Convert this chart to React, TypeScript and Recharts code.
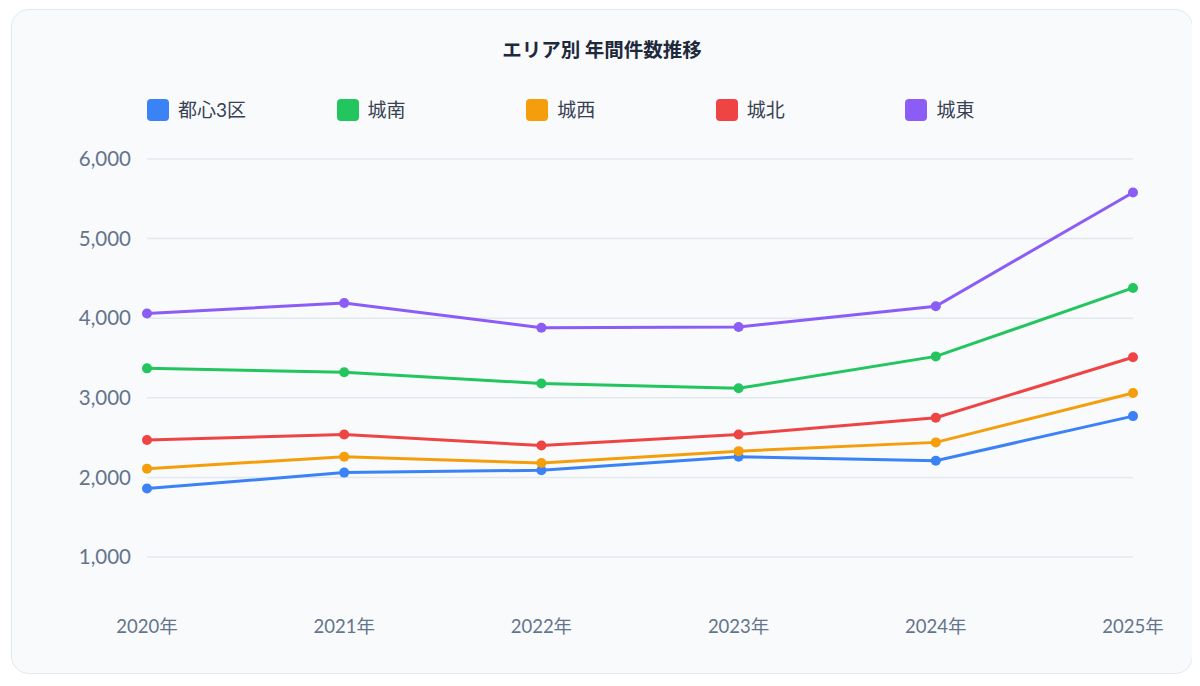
import { CartesianGrid, Line, LineChart, XAxis, YAxis } from "recharts";

const years = ["2020年", "2021年", "2022年", "2023年", "2024年", "2025年"];

const toshin3 = [1860, 2060, 2090, 2260, 2210, 2770];
const jonan = [3370, 3320, 3180, 3120, 3520, 4380];
const josai = [2110, 2260, 2180, 2330, 2440, 3060];
const johoku = [2470, 2540, 2400, 2540, 2750, 3510];
const joto = [4060, 4190, 3880, 3890, 4150, 5580];

const yTicks = [1000, 2000, 3000, 4000, 5000, 6000];

const series = [
  { key: "toshin3", name: "都心3区", color: "#3b82f6", values: toshin3 },
  { key: "jonan", name: "城南", color: "#22c55e", values: jonan },
  { key: "josai", name: "城西", color: "#f59e0b", values: josai },
  { key: "johoku", name: "城北", color: "#ef4444", values: johoku },
  { key: "joto", name: "城東", color: "#8b5cf6", values: joto },
];

const data = years.map((year, i) => {
  const row: Record<string, string | number> = { year };
  series.forEach((s) => {
    row[s.key] = s.values[i];
  });
  return row;
});

const font = 'Lato, "Noto Sans CJK JP", sans-serif';

export default function App() {
  return (
    <div style={{ position: "relative", width: 1184, height: 670, fontFamily: font }}>
      <div
        style={{
          position: "absolute",
          left: 3,
          top: 1,
          width: 1182,
          height: 665,
          boxSizing: "border-box",
          border: "1px solid #e2e8f0",
          borderRadius: 18,
          background: "#f8fafc",
        }}
      >
        <div
          style={{
            position: "absolute",
            left: 0,
            right: 0,
            top: 27,
            textAlign: "center",
            fontSize: 19.5,
            fontWeight: 700,
            color: "#1e293b",
            lineHeight: "24px",
            fontFamily: '"Noto Sans CJK JP", sans-serif',
          }}
        >
          エリア別 年間件数推移
        </div>
        <div style={{ position: "absolute", left: 135, top: 89, height: 24 }}>
          {series.map((s, i) => (
            <div
              key={s.key}
              style={{
                position: "absolute",
                left: i * 189.6,
                top: 0,
                display: "flex",
                alignItems: "center",
                whiteSpace: "nowrap",
              }}
            >
              <span
                style={{
                  width: 22,
                  height: 22,
                  borderRadius: 4,
                  background: s.color,
                  display: "inline-block",
                }}
              />
              <span style={{ marginLeft: 9, fontSize: 19, color: "#374151", lineHeight: "22px" }}>
                {s.name}
              </span>
            </div>
          ))}
        </div>
        <div style={{ position: "absolute", left: -1, top: -1 }}>
          <LineChart
            width={1182}
            height={665}
            data={data}
            margin={{ top: 150, right: 60, bottom: 37, left: 0 }}
          >
            <CartesianGrid stroke="#e2e8f0" strokeWidth={1.5} vertical={false} />
            <XAxis
              dataKey="year"
              axisLine={false}
              tickLine={false}
              tickSize={0}
              tickMargin={63}
              height={80}
              interval={0}
              tick={{ fill: "#64748b", fontSize: 18.5, fontFamily: font }}
            />
            <YAxis
              domain={[1000, 6000]}
              ticks={yTicks}
              axisLine={false}
              tickLine={false}
              tickSize={0}
              tickMargin={16}
              width={136}
              tickFormatter={(v: number) => v.toLocaleString("en-US")}
              tick={{ fill: "#64748b", fontSize: 20.5, fontFamily: font }}
            />
            {series.map((s) => (
              <Line
                key={s.key}
                dataKey={s.key}
                name={s.name}
                stroke={s.color}
                strokeWidth={3}
                dot={{ r: 5, fill: s.color, stroke: s.color, strokeWidth: 0 }}
                isAnimationActive={false}
              />
            ))}
          </LineChart>
        </div>
      </div>
    </div>
  );
}
